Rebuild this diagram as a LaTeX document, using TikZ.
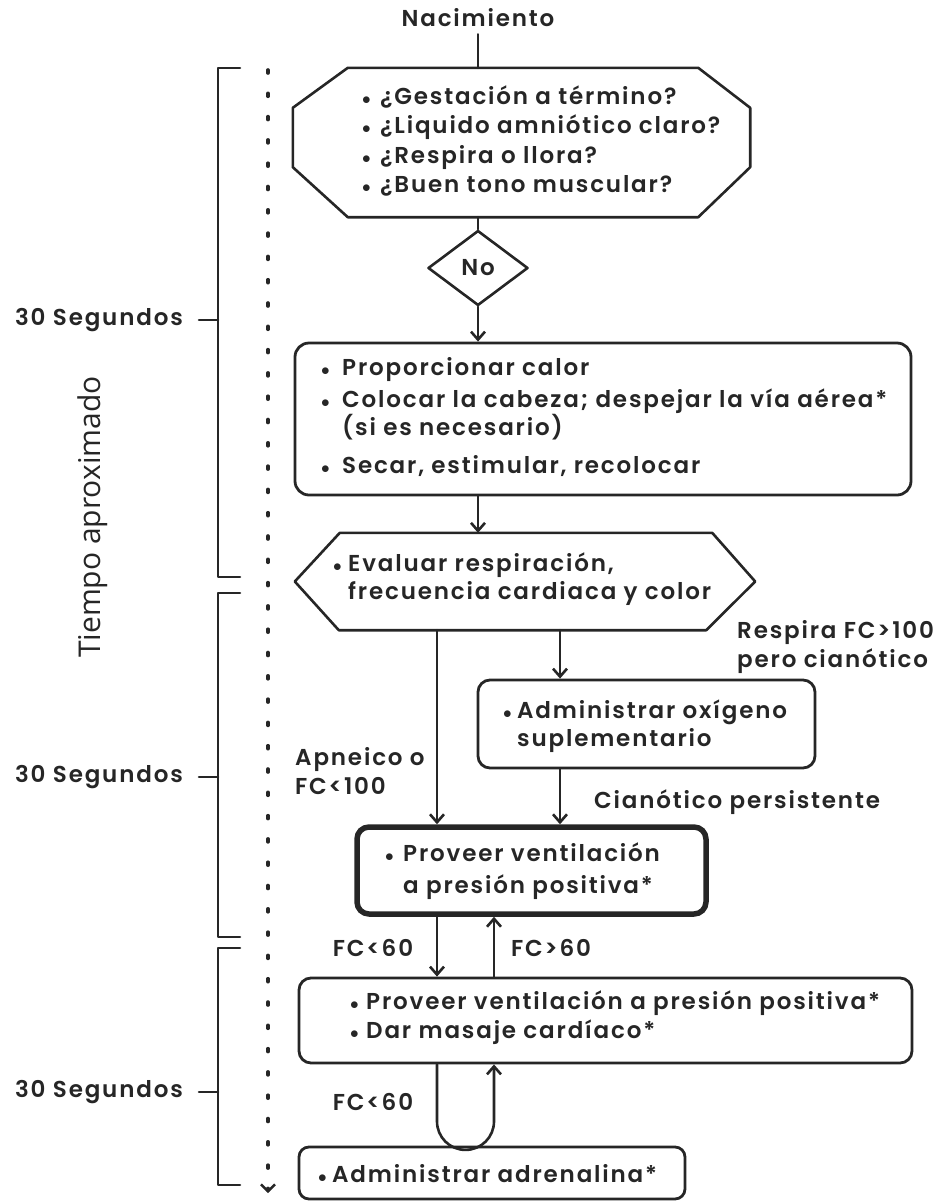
\documentclass[tikz,border=0pt]{standalone}
\usepackage{fontspec}
\setmainfont{Poppins SemiBold}[LetterSpace=8]
\newfontfamily\tiempofont{Open Sans}
\usetikzlibrary{arrows.meta,calc,shapes.geometric}

\colorlet{tinta}{black!85}
\newcommand{\bul}[1][18pt]{\makebox[#1][l]{\fontsize{16}{16}\selectfont$\bullet$}}

\begin{document}
\begin{tikzpicture}
	[x=1pt,y=-1pt,line cap=round,line join=round,
	%Styles
	linea/.style={line width=2.6pt,draw=tinta},
	flecha/.style={linea,-{Straight Barb[length=8pt,width=14pt]}},
	caja/.style={draw=tinta,line width=2.8pt,rounded corners=14pt,inner sep=0pt},
	forma/.style={inner sep=0pt},
	texto/.style={text=tinta,font=\fontsize{23}{29}\selectfont,align=left,inner sep=0pt},
	bloque/.style={texto,anchor=west},
	segundos/.style={texto,anchor=east}
	]
	\useasboundingbox (0,0) rectangle (944,1203);
	
	%Columns of the connectors
	\coordinate (colA) at (437,0);
	\coordinate (colB) at (494,0);
	\coordinate (colC) at (560,0);
	\coordinate (brk) at (218,0);
	
	%The boxes
	\node (nac) [texto] at (478,18) {Nacimiento};
	
	\node (preg) [forma,minimum width=457pt,minimum height=149pt] at (521.5,142.5) {};
	\draw[linea] ($(preg.north west)+(55,0)$) -- ($(preg.north east)+(-52,0)$) -- ($(preg.north east)+(0,40)$)
		-- ($(preg.south east)+(0,-50)$) -- ($(preg.south east)+(-52,0)$) -- ($(preg.south west)+(55,0)$)
		-- ($(preg.south west)+(0,-50)$) -- ($(preg.north west)+(0,40)$) -- cycle;
	\node (tpreg) [bloque,font=\fontsize{23}{29.5}\selectfont] at (362,141)
		{\bul ¿Gestación a término?\\ \bul ¿Liquido amniótico claro?\\ \bul ¿Respira o llora?\\ \bul ¿Buen tono muscular?};
	
	\node (no) [diamond,draw=tinta,line width=2.6pt,texto,minimum width=100pt,minimum height=75pt] at (478,268) {No};
	
	\node (cal) [caja,minimum width=616pt,minimum height=152pt] at (603,419) {};
	\node (tcal) [bloque,font=\fontsize{23}{25}\selectfont] at (321,417)
		{\bul[21pt]Proporcionar calor\\[7pt]
		 \bul[21pt]Colocar la cabeza; despejar la vía aérea*\\
		 \hspace*{21pt}(si es necesario)\\[13pt]
		 \bul[21pt]Secar, estimular, recolocar};
	
	\node (eval) [forma,minimum width=460pt,minimum height=97pt] at (525,581.5) {};
	\draw[linea] ($(eval.north west)+(45,0)$) -- ($(eval.north east)+(-43,0)$) -- (eval.east)
		-- ($(eval.south east)+(-49,0)$) -- ($(eval.south west)+(44,0)$) -- (eval.west) -- cycle;
	\node (teval) [bloque,font=\fontsize{23}{28}\selectfont] at (333,579)
		{\bul[15pt]Evaluar respiración,\\ \hspace*{15pt}frecuencia cardiaca y color};
	
	\node (oxi) [caja,rounded corners=12pt,minimum width=337pt,minimum height=88pt] at (646.5,724) {};
	\node (toxi) [bloque,font=\fontsize{23}{28}\selectfont] at (503,726)
		{\bul[14pt]Administrar oxígeno\\ \hspace*{14pt}suplementario};
	
	\node (vpp) [caja,line width=5.5pt,rounded corners=12pt,minimum width=349pt,minimum height=87pt] at (531.5,870.5) {};
	\node (tvpp) [bloque,font=\fontsize{23}{32}\selectfont] at (385,871)
		{\bul Proveer ventilación\\ \hspace*{18pt}a presión positiva*};
	
	\node (vmc) [caja,rounded corners=12pt,minimum width=613pt,minimum height=85pt] at (605.5,1020.5) {};
	\node (tvmc) [bloque,font=\fontsize{23}{29}\selectfont] at (350,1017.5)
		{\bul[16pt]Proveer ventilación a presión positiva*\\ \bul[16pt]Dar masaje cardíaco*};
	
	\node (adr) [caja,rounded corners=10pt,minimum width=386pt,minimum height=52pt] at (492,1173) {};
	\node (tadr) [bloque] at (318,1174) {\bul[14pt]Administrar adrenalina*};
	
	%Connectors
	\draw[linea,shorten <=7pt] (nac) -- (nac |- preg.north);
	\draw[linea] (preg.south -| no) -- (no);
	\draw[flecha] (no) -- (no |- cal.north);
	\draw[flecha] (cal.south -| no) -- (no |- eval.north);
	\draw[flecha] (eval.south -| colA) -- (vpp.north -| colA);
	\draw[flecha] (eval.south -| colC) -- (oxi.north -| colC);
	\draw[flecha] (oxi.south -| colC) -- (vpp.north -| colC);
	\draw[flecha] (vpp.south -| colA) -- (vmc.north -| colA);
	\draw[flecha] (vmc.north -| colB) -- (vpp.south -| colB);
	\draw[flecha] (vmc.south -| colA) -- ++(0,57) arc[start angle=180,end angle=0,radius=28.5] -- (vmc.south -| colB);
	
	%Labels of the connectors
	\node (resp) [bloque] at (737,647) {Respira FC>100\\pero cianótico};
	\node (apn) [bloque] at (295,771) {Apneico o\\FC<100};
	\node (cian) [bloque] at (594,802) {Cianótico persistente};
	\node (fc1) [texto] at (373,948) {FC<60};
	\node (fc2) [texto] at (551,948) {FC>60};
	\node (fc3) [texto] at (373,1102) {FC<60};
	
	%Time scale
	\draw[line width=3.6pt,draw=tinta,dash pattern=on 3pt off 20.3pt,
		-{Straight Barb[length=7pt,width=14pt,line width=2.4pt]}] (268,70) -- (268,1193);
	
	\draw[linea] (240,68) -- (brk |- 0,68) -- (brk |- 0,577) -- (240,577);
	\draw[linea] (240,593) -- (brk |- 0,593) -- (brk |- 0,937) -- (240,937);
	\draw[linea] (240,948) -- (brk |- 0,948) -- (brk |- 0,1185) -- (240,1185);
	
	\node (seg1) [segundos] at (183,320) {30 Segundos};
	\node (seg2) [segundos] at (183,777) {30 Segundos};
	\node (seg3) [segundos] at (183,1092) {30 Segundos};
	\draw[linea] ($(seg1.east)+(16,0)$) -- (seg1.east -| brk);
	\draw[linea] ($(seg2.east)+(16,0)$) -- (seg2.east -| brk);
	\draw[linea] ($(seg3.east)+(16,0)$) -- (seg3.east -| brk);
	
	\node (tiempo) [rotate=90,text=tinta,font=\tiempofont\fontsize{30}{30}\selectfont] at (93,517) {Tiempo aproximado};
\end{tikzpicture}
\end{document}
